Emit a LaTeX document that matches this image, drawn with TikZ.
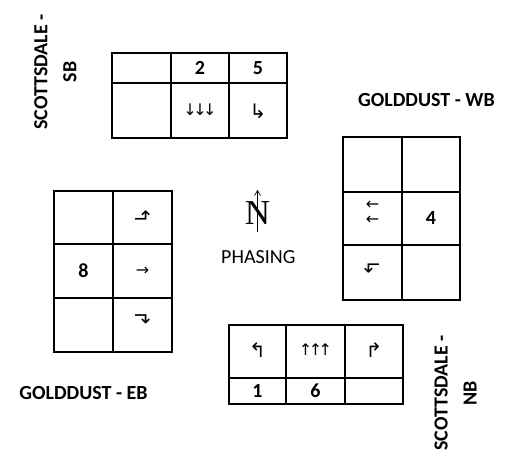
\documentclass[tikz,border=0pt]{standalone}
\usepackage{fontspec}
\setmainfont{Carlito}
\newfontfamily\arrowfont{DejaVu Sans}
\newfontfamily\northfont{Liberation Serif}
\usetikzlibrary{arrows.meta}

\tikzset{
  outer/.style={line width=2.6pt},
  inner/.style={line width=1.2pt},
  num/.style={font=\bfseries\fontsize{20}{24}\selectfont, inner sep=0pt},
  arr/.style={font=\arrowfont\fontsize{16}{15}\selectfont, inner sep=0pt, align=center},
  bent/.style={arr, font=\arrowfont\fontsize{20}{20}\selectfont},
  road/.style={font=\bfseries\fontsize{20}{29}\selectfont, align=center, inner sep=0pt},
}

\begin{document}
\begin{tikzpicture}[x=1pt,y=-1pt]
\useasboundingbox (0,0) rectangle (511,465);
% southbound
\draw[inner] (171,53) -- (171,138);
\draw[inner] (229,53) -- (229,138);
\draw[inner] (112,83) -- (287,83);
\draw[outer] (112,53) rectangle (287,138);
\node[num] (sbtwo) at (200,68) {2};
\node[num] (sbfive) at (258,68) {5};
\node[arr] (sbthru) at (200,110) {↓\kern-3.5pt↓\kern-3.5pt↓};
\node[bent] (sbleft) at (258,111) {↳};
\node[road, rotate=90] (sblabel) at (55.5,72) {SCOTTSDALE -\\SB};
% westbound
\draw[inner] (402,137) -- (402,300);
\draw[inner] (343,192) -- (460,192);
\draw[inner] (343,245) -- (460,245);
\draw[outer] (343,137) rectangle (460,300);
\node[num] (wbfour) at (431,218) {4};
\node[arr] (wbthru) at (372.5,213) {←\\←};
\node[bent, rotate=90] (wbleft) at (372.5,268) {↰};
\node[road] (wblabel) at (426.5,100) {GOLDDUST - WB};
% eastbound
\draw[inner] (113,191) -- (113,352);
\draw[inner] (54,244) -- (172,244);
\draw[inner] (54,298) -- (172,298);
\draw[outer] (54,191) rectangle (172,352);
\node[num] (ebeight) at (83.5,271) {8};
\node[bent, rotate=-90] (ebleft) at (142.5,216) {↰};
\node[arr] (ebthru) at (142.5,271) {→};
\node[bent, rotate=-90] (ebright) at (142.5,319) {↱};
\node[road] (eblabel) at (83.5,393) {GOLDDUST - EB};
% northbound
\draw[inner] (286,325) -- (286,404);
\draw[inner] (345,325) -- (345,404);
\draw[inner] (229,378) -- (403,378);
\draw[outer] (229,325) rectangle (403,404);
\node[bent] (nbleft) at (257.5,350) {↰};
\node[arr] (nbthru) at (315.5,350) {↑\kern-3.5pt↑\kern-3.5pt↑};
\node[bent] (nbright) at (374,350) {↱};
\node[num] (nbone) at (257.5,391) {1};
\node[num] (nbsix) at (315.5,391) {6};
\node[road, rotate=90] (nblabel) at (455.5,393) {SCOTTSDALE -\\NB};
% north arrow
\node[font=\northfont\fontsize{35}{35}\selectfont, inner sep=0pt] (north) at (257.5,213.5) {N};
\draw[-{Straight Barb[length=5pt,width=6pt]}, line width=0.7pt] ([yshift=-7pt]north.south) -- ([yshift=12pt]north.north);
\node[font=\fontsize{20}{24}\selectfont, inner sep=0pt] (phasing) at (258.3,256.7) {PHASING};
\end{tikzpicture}
\end{document}
